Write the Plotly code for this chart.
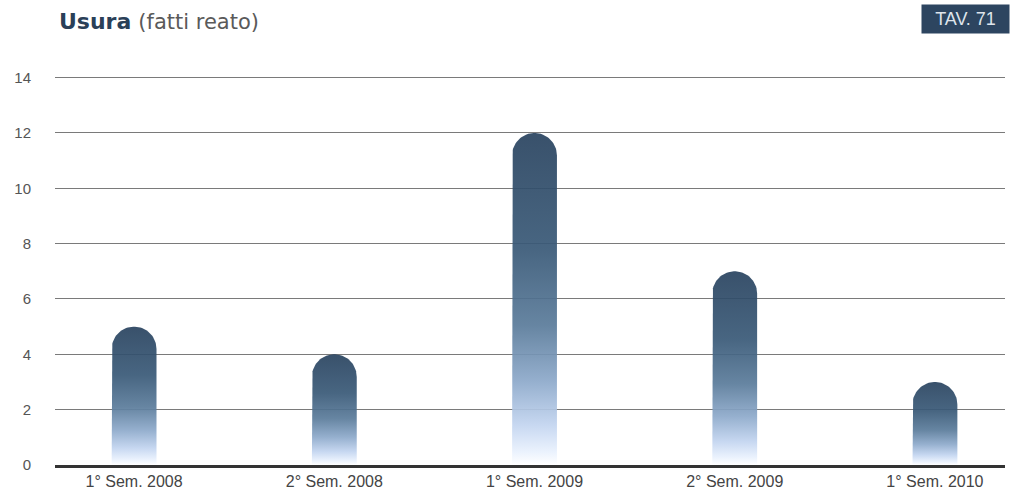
import numpy as np
import plotly.graph_objects as go

categories = ["1° Sem. 2008", "2° Sem. 2008", "1° Sem. 2009", "2° Sem. 2009", "1° Sem. 2010"]
values = [5, 4, 12, 7, 3]
y_ticks = [0, 2, 4, 6, 8, 10, 12, 14]

W, H = 1010, 500
L, R, T, B = 55, 5, 61, 35
x_range = [-0.395, 4.35]
y_range = [0, 14.6]
pw = W - L - R
ph = H - T - B
px_per_x = pw / (x_range[1] - x_range[0])
px_per_y = ph / (y_range[1] - y_range[0])

half_w = 0.112  # half bar width in category units
r_y = half_w * px_per_x / px_per_y  # radius of rounded top in y units

colorscale = [
    [0.0, "#ffffff"],
    [0.04, "#e9f1fd"],
    [0.12, "#c3d5f0"],
    [0.25, "#8eaacb"],
    [0.42, "#5b7c9b"],
    [0.65, "#3a5a78"],
    [1.0, "#2a4460"],
]

fig = go.Figure()
theta = np.linspace(np.pi, 0, 40)
for i, v in enumerate(values):
    c = i
    xs = [c - half_w, c - half_w]
    ys = [0, v - r_y]
    xs += list(c + half_w * np.cos(theta))
    ys += list(v - r_y + r_y * np.sin(theta))
    xs += [c + half_w, c - half_w]
    ys += [0, 0]
    fig.add_trace(go.Scatter(
        x=xs, y=ys, mode="lines", fill="toself",
        line=dict(width=0, color="rgba(0,0,0,0)"),
        fillgradient=dict(type="vertical", colorscale=colorscale),
        opacity=0.93, hoverinfo="skip", showlegend=False,
        name=categories[i],
    ))

fig.update_layout(
    width=W, height=H,
    margin=dict(l=L, r=R, t=T, b=B),
    paper_bgcolor="white", plot_bgcolor="white",
    font=dict(family="Liberation Sans, Arial, sans-serif", color="#444"),
    xaxis=dict(
        range=x_range, tickvals=list(range(len(categories))), ticktext=categories,
        showgrid=False, zeroline=False, showline=True, linecolor="#333", linewidth=3,
        ticks="", tickfont=dict(size=16, color="#444"), fixedrange=True, automargin=False,
    ),
    yaxis=dict(
        range=y_range, tickvals=y_ticks, showgrid=True, gridcolor="#7a7a7a", gridwidth=1,
        zeroline=False, showline=False, ticks="", ticklabelstandoff=23,
        tickfont=dict(size=15, color="#555"), fixedrange=True, automargin=False,
    ),
    annotations=[
        dict(text="<b>Usura</b> <span style='color:#5a5a5a;font-size:21px'>(fatti reato)</span>",
             xref="paper", yref="paper", x=(57 - L) / pw, y=(H - B - 22) / ph,
             xanchor="left", yanchor="middle", showarrow=False,
             font=dict(size=22, color="#2a4058", family="DejaVu Sans, sans-serif")),
        dict(text="TAV. 71", xref="paper", yref="paper",
             x=(W - L) / pw, y=(H - B - 19) / ph,
             xanchor="right", yanchor="middle", showarrow=False,
             bgcolor="#2d4560", width=81, height=22, borderpad=3,
             font=dict(size=18, color="#dfe5ec", family="Liberation Sans, Arial, sans-serif")),
    ],
)

fig.write_html("out.html", post_script="document.body.style.margin='0';",
               config={"displayModeBar": False, "staticPlot": True})
